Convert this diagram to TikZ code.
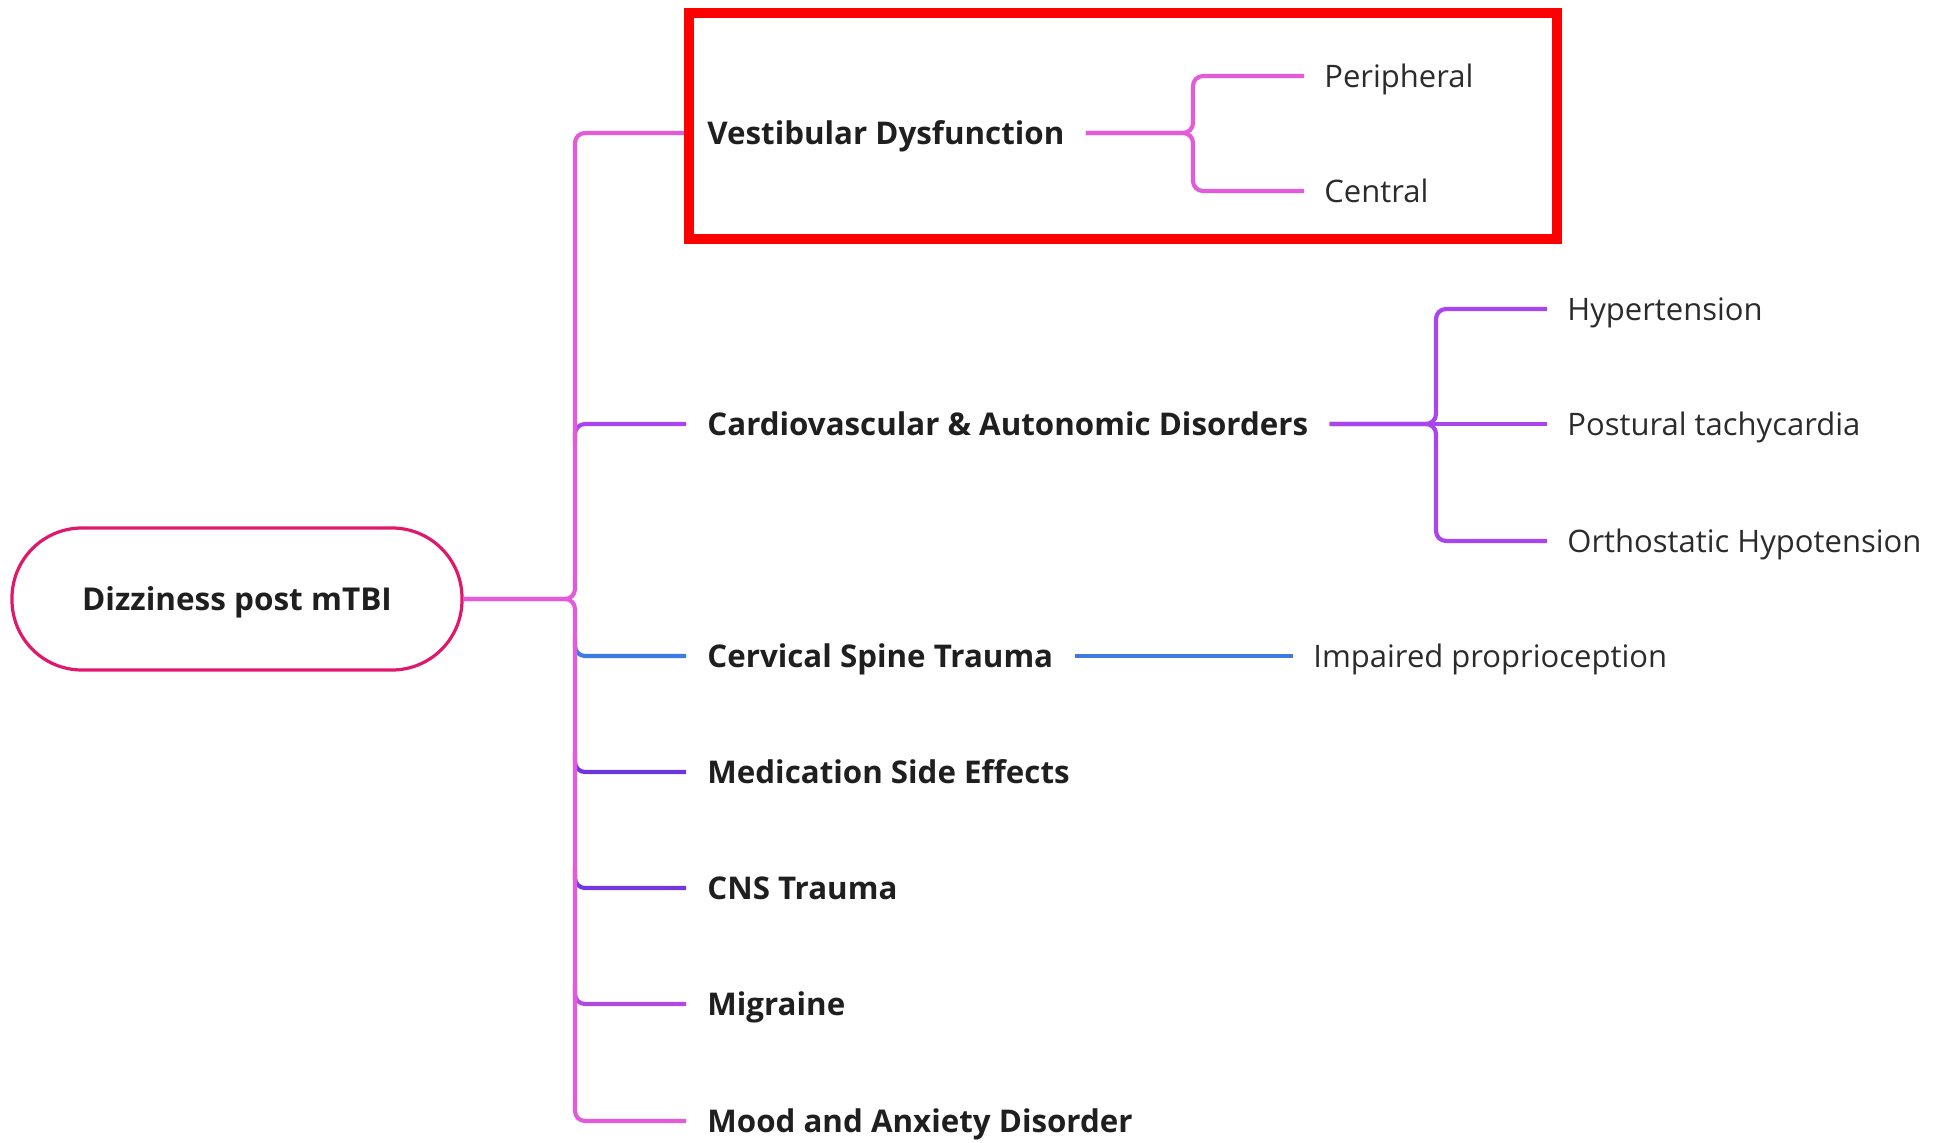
\documentclass[tikz,border=0pt]{standalone}
\usepackage{fontspec}
\setmainfont{Open Sans}
\definecolor{trunkpink}{HTML}{E45BD9}
\definecolor{rootred}{HTML}{E0186C}
\definecolor{cardiopurple}{HTML}{A845EE}
\definecolor{cervblue}{HTML}{3D7BE3}
\definecolor{medviolet}{HTML}{6B36E0}
\definecolor{cnsviolet}{HTML}{7438E2}
\definecolor{migpurple}{HTML}{B049E0}
\definecolor{framered}{HTML}{FF0000}
\definecolor{inkdark}{HTML}{1F1F1F}
\definecolor{inksoft}{HTML}{2B2B2B}
\tikzset{
  topic/.style={anchor=west, inner xsep=10.5pt, inner ysep=0pt,
    text height=1.12em, text depth=0pt, text=inkdark,
    font=\fontsize{15.65pt}{19pt}\selectfont\bfseries},
  leaf/.style={anchor=west, inner xsep=10pt, inner ysep=0pt,
    text height=1.12em, text depth=0pt, text=inksoft,
    font=\fontsize{15.5pt}{19pt}\selectfont},
  rootbox/.style={draw=rootred, line width=1.6pt, rounded corners=35pt,
    minimum width=225pt, minimum height=71pt, text=inkdark,
    text height=1.12em, text depth=0pt,
    font=\fontsize{15.75pt}{19pt}\selectfont\bfseries},
  link/.style={line width=2.1pt, rounded corners=5pt},
}
\begin{document}
\begin{tikzpicture}[x=0.5pt, y=-0.5pt]
\useasboundingbox (0,0) rectangle (1944,1143);

% central topic
\node[rootbox] (root) at (237,599) {Dizziness post mTBI};

% main branches
\node[topic] (ves)    at (686,133)  {Vestibular Dysfunction};
\node[topic] (cardio) at (686,424)  {Cardiovascular \& Autonomic Disorders};
\node[topic] (cerv)   at (686,656)  {Cervical Spine Trauma};
\node[topic] (med)    at (686,772)  {Medication Side Effects};
\node[topic] (cns)    at (686,888)  {CNS Trauma};
\node[topic] (mig)    at (686,1004) {Migraine};
\node[topic] (mood)   at (686,1121) {Mood and Anxiety Disorder};

% sub-branches
\node[leaf] (per) at (1304,76)  {Peripheral};
\node[leaf] (cen) at (1304,191) {Central};
\node[leaf] (hyp) at (1547,309) {Hypertension};
\node[leaf] (pos) at (1547,424) {Postural tachycardia};
\node[leaf] (ort) at (1547,541) {Orthostatic Hypotension};
\node[leaf] (imp) at (1293,656) {Impaired proprioception};

% junction points
\coordinate (hub) at (575,599);
\coordinate (vb)  at (1193,133);
\coordinate (cb)  at (1436,424);

% side branches leaving the trunk
\draw[link, cardiopurple] (575,444) |- (cardio.west);
\draw[link, cervblue]     (575,636) |- (cerv.west);
\draw[link, medviolet]    (575,752) |- (med.west);
\draw[link, cnsviolet]    (575,868) |- (cns.west);
\draw[link, migpurple]    (575,984) |- (mig.west);

% trunk
\draw[link, trunkpink] (root.east) -- (hub) |- (ves.west);
\draw[link, trunkpink] (root.east) -- (hub) |- (mood.west);

% vestibular sub-branches
\draw[link, trunkpink] (ves.east) -- (vb) |- (per.west);
\draw[link, trunkpink] (ves.east) -- (vb) |- (cen.west);

% cardiovascular sub-branches
\draw[link, cardiopurple] (cardio.east) -- (cb) |- (hyp.west);
\draw[link, cardiopurple] (cardio.east) -- (cb) |- (ort.west);
\draw[link, cardiopurple] (cardio.east) -- (pos.west);

% cervical sub-branch
\draw[link, cervblue] (cerv.east) -- (imp.west);

% highlight frame
\draw[framered, line width=5.3pt] (689,13) rectangle (1557,239);
\end{tikzpicture}
\end{document}
